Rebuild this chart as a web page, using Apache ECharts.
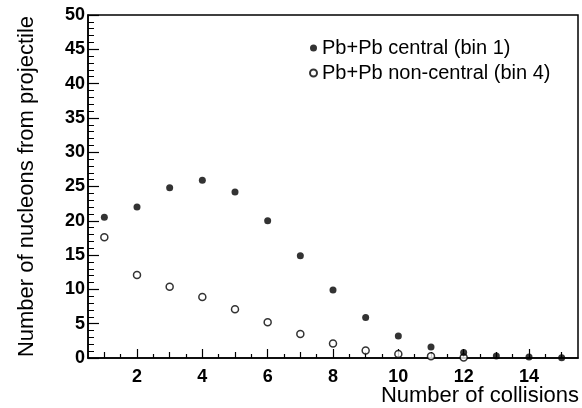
<!DOCTYPE html>
<html>
<head>
<meta charset="utf-8">
<script src="https://cdn.jsdelivr.net/npm/echarts@6/dist/echarts.min.js"></script>
<style>
html,body{margin:0;padding:0;background:#fff;}
#chart{width:582px;height:408px;}
</style>
</head>
<body>
<div id="chart"></div>
<script>
// ---- data ----
var collisionsCentral = [1,2,3,4,5,6,7,8,9,10,11,12,13,14,15];
var nucleonsCentral   = [20.5,22.0,24.8,25.9,24.2,20.0,14.9,9.9,5.9,3.2,1.6,0.8,0.3,0.15,0.05];
var collisionsNonCentral = [1,2,3,4,5,6,7,8,9,10,11,12];
var nucleonsNonCentral   = [17.6,12.1,10.4,8.9,7.1,5.2,3.5,2.1,1.1,0.6,0.25,0.08];
var seriesNames = ['Pb+Pb central (bin 1)', 'Pb+Pb non-central (bin 4)'];
var xMajorTicks = [2,4,6,8,10,12,14];
var xOddTicks   = [1,3,5,7,9,11,13,15];
var xHalfTicks  = [1.5,2.5,3.5,4.5,5.5,6.5,7.5,8.5,9.5,10.5,11.5,12.5,13.5,14.5];
var xTitle = 'Number of collisions';
var yTitle = 'Number of nucleons from projectile';

function pairs(xs, ys){ return xs.map(function(x,i){ return [x, ys[i]]; }); }

var chart = echarts.init(document.getElementById('chart'));
var FONT = '"Liberation Sans", Arial, Helvetica, sans-serif';
var lineStyle = {color:'#000', width:1.5};

function xAxisDef(ticks, len, withLabels){
  return {
    type:'value', min:0.5, max:15.5, position:'bottom', gridIndex:0,
    axisLine:{show: withLabels, onZero:false, lineStyle: lineStyle},
    axisTick:{show:true, inside:true, length:len, customValues:ticks, lineStyle:{color:'#000', width:1.2}},
    axisLabel:{show: withLabels, customValues: withLabels ? xMajorTicks : undefined,
      color:'#000', fontFamily:FONT, fontWeight:'bold', fontSize:18, margin:10},
    splitLine:{show:false}
  };
}

chart.setOption({
  animation:false,
  backgroundColor:'#fff',
  title:{text:xTitle, right:3, top:385, padding:0,
         textStyle:{color:'#000', fontFamily:FONT, fontSize:22, fontWeight:'normal'}},
  grid:{left:88, right:4, top:15, bottom:50, containLabel:false, outerBoundsMode:'none',
        show:true, borderColor:'#000', borderWidth:1.5, backgroundColor:'transparent'},
  legend:{
    orient:'vertical', left:304, top:33, itemGap:5, itemWidth:7, itemHeight:7,
    textStyle:{color:'#000', fontFamily:FONT, fontSize:20},
    data:[{name:seriesNames[0], icon:'circle'},{name:seriesNames[1], icon:'circle'}]
  },
  xAxis:[
    xAxisDef(xMajorTicks, 9, true),
    xAxisDef(xOddTicks, 6, false),
    xAxisDef(xHalfTicks, 4, false)
  ],
  yAxis:{
    type:'value', min:0, max:50, interval:5,
    axisLine:{show:true, lineStyle:lineStyle},
    axisTick:{show:true, inside:true, length:11, lineStyle:{color:'#000', width:1.2}},
    minorTick:{show:true, splitNumber:5, length:6, lineStyle:{color:'#000', width:1}},
    axisLabel:{color:'#000', fontFamily:FONT, fontWeight:'bold', fontSize:18, margin:3},
    splitLine:{show:false},
    name:yTitle, nameLocation:'middle', nameGap:50, nameRotate:90,
    nameTextStyle:{color:'#000', fontFamily:FONT, fontSize:22}
  },
  series:[
    {name:seriesNames[0], type:'scatter', xAxisIndex:0, symbol:'circle', symbolSize:7,
     itemStyle:{color:'#000'}, data:pairs(collisionsCentral, nucleonsCentral), z:3},
    {name:seriesNames[1], type:'scatter', xAxisIndex:0, symbol:'circle', symbolSize:7,
     itemStyle:{color:'#fff', borderColor:'#000', borderWidth:1.5}, data:pairs(collisionsNonCentral, nucleonsNonCentral), z:2}
  ]
});
</script>
</body>
</html>
